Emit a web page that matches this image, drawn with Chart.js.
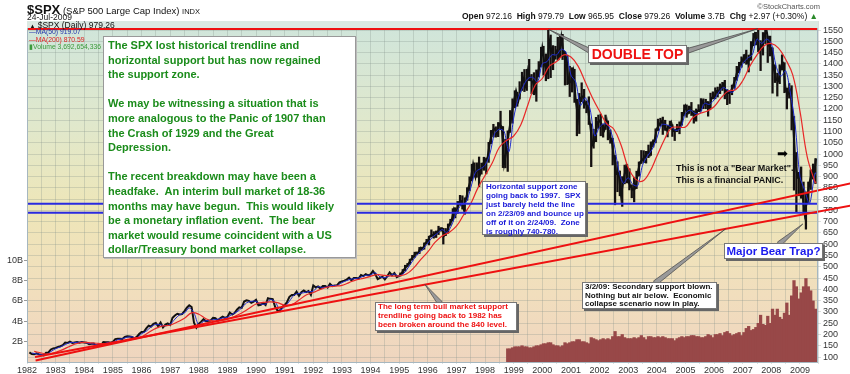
<!DOCTYPE html>
<html>
<head>
<meta charset="utf-8">
<script src="https://cdn.jsdelivr.net/npm/chart.js@4.4.1/dist/chart.umd.min.js"></script>
<style>
  body { margin: 0; background: #fff; }
  #wrap { position: relative; width: 850px; height: 374px; font-family: Arial, "Liberation Sans", sans-serif; }
  .t { position: absolute; white-space: nowrap; }
  .box { position: absolute; white-space: nowrap; background: #fff; border: 1px solid #777; box-shadow: 2px 2px 0 #666; font-weight: bold; box-sizing: border-box; }
</style>
</head>
<body>
<div id="wrap">
  <canvas id="spx-chart" width="850" height="374"></canvas>

  <div class="t" style="left:27px;top:2px;font-size:9.5px;color:#111"><b style="font-size:13px">$SPX</b> (S&amp;P 500 Large Cap Index) <span style="font-size:7.5px">INDX</span></div>
  <div class="t" style="left:27px;top:12px;font-size:8.5px;color:#222">24-Jul-2009</div>
  <div class="t" style="right:30px;top:2px;font-size:7.5px;color:#555">&copy;StockCharts.com</div>
  <div class="t" style="right:32px;top:11px;font-size:8.5px;color:#111"><b>Open</b> 972.16 &nbsp;<b>High</b> 979.79 &nbsp;<b>Low</b> 965.95 &nbsp;<b>Close</b> 979.26 &nbsp;<b>Volume</b> 3.7B &nbsp;<b>Chg</b> +2.97 (+0.30%) <span style="color:#2a8a2a">&#9650;</span></div>

  <div class="t" style="left:27px;top:21px;width:791px;height:7px;background:#dbe9e2;font-size:8.5px;line-height:8px;color:#111">&nbsp;<span style="font-size:6px">&#9650;</span> $SPX (Daily) 979.26</div>
  <div class="t" style="left:29px;top:28px;font-size:6.8px;line-height:7.6px">
    <span style="color:#2233aa">&#8212;MA(50) 919.07</span><br>
    <span style="color:#dd2222">&#8212;MA(200) 870.59</span><br>
    <span style="color:#3a9a3a">&#9646;Volume 3,692,654,336</span>
  </div>

  <div class="box" style="left:103px;top:36px;width:253px;height:222px;padding:1px 4px;font-size:11px;line-height:14.6px;color:#1b8c1b;border-color:#999;box-shadow:1px 1px 0 #bbb">
    The SPX lost historical trendline and<br>
    horizontal support but has now regained<br>
    the support zone.<br>
    <br>
    We may be witnessing a situation that is<br>
    more analogous to the Panic of 1907 than<br>
    the Crash of 1929 and the Great<br>
    Depression.<br>
    <br>
    The recent breakdown may have been a<br>
    headfake.&nbsp; An interim bull market of 18-36<br>
    months may have begun.&nbsp; This would likely<br>
    be a monetary inflation event.&nbsp; The bear<br>
    market would resume coincident with a US<br>
    dollar/Treasury bond market collapse.
  </div>

  <div class="box" style="left:588px;top:45px;width:99px;height:18px;font-size:14px;line-height:16px;color:#ee1111;text-align:center">DOUBLE TOP</div>

  <div class="t" style="left:777px;top:146px;font-size:13px;font-family:'DejaVu Sans'">&#10145;</div>
  <div class="t" style="left:676px;top:162px;font-size:9px;line-height:12px;font-weight:bold;color:#111">This is not a "Bear Market".<br>This is a financial PANIC.</div>

  <div class="box" style="left:482px;top:181px;width:104px;height:54px;padding:0 3px;font-size:8px;line-height:9px;color:#1a1ad8">
    Horizontal support zone<br>
    going back to 1997.&nbsp; SPX<br>
    just barely held the line<br>
    on 2/23/09 and bounce up<br>
    off of it on 2/24/09.&nbsp; Zone<br>
    is roughly 740-780.
  </div>

  <div class="box" style="left:724px;top:243px;width:99px;height:16px;font-size:11.5px;line-height:14px;color:#1a1aee;text-align:center">Major Bear Trap?</div>

  <div class="box" style="left:582px;top:282px;width:135px;height:27px;padding:0 2px;font-size:8px;line-height:8.5px;color:#111">
    3/2/09: Secondary support blown.<br>
    Nothing but air below.&nbsp; Economic<br>
    collapse scenario now in play.
  </div>

  <div class="box" style="left:375px;top:302px;width:142px;height:29px;padding:0 2px;font-size:8px;line-height:8.8px;color:#ee1111">
    The long term bull market support<br>
    trendline going back to 1982 has<br>
    been broken around the 840 level.
  </div>
</div>

<script>
// monthly closes, Jan 1982 .. Jul 2009
const closes = [
  120.4,113.1,112.0,116.4,111.9,109.6,107.1,119.5,120.4,133.7,138.5,140.6,
  145.3,148.1,153.0,164.4,162.4,168.1,162.6,164.4,166.1,163.6,166.4,164.9,
  163.4,157.1,159.2,160.1,150.6,153.2,150.7,166.7,166.1,166.1,163.6,167.2,
  179.6,181.2,180.7,179.8,189.6,191.9,190.9,188.6,182.1,189.8,202.2,211.3,
  211.8,226.9,238.9,235.5,247.4,250.8,236.1,252.9,231.3,244.0,249.2,242.2,
  274.1,284.2,291.7,288.4,290.1,304.0,318.7,329.8,321.8,251.8,230.3,247.1,
  257.1,267.8,258.9,261.3,262.2,273.5,272.0,261.5,271.9,279.0,273.7,277.7,
  297.5,288.9,294.9,309.6,320.5,318.0,346.1,351.5,349.2,340.4,346.0,353.4,
  329.1,331.9,339.9,330.8,361.2,358.0,356.2,322.6,306.1,304.0,322.2,330.2,
  343.9,367.1,375.2,375.3,389.8,371.2,387.8,395.4,387.9,392.5,375.2,417.1,
  408.8,412.7,403.7,415.0,415.4,408.1,424.2,414.0,417.8,418.7,431.4,435.7,
  438.8,443.4,451.7,440.2,450.2,450.5,448.1,463.6,458.9,467.8,461.8,466.5,
  481.6,467.1,445.8,450.9,456.5,444.3,458.3,475.5,462.7,472.4,453.7,459.3,
  470.4,487.4,500.7,514.7,533.4,544.8,562.1,561.9,584.4,581.5,605.4,615.9,
  636.0,640.4,645.5,654.2,669.1,670.6,640.0,652.0,687.3,705.3,757.0,740.7,
  786.2,790.8,757.1,801.3,848.3,885.1,954.3,899.5,947.3,914.6,955.4,970.4,
  980.3,1049.3,1101.8,1111.8,1090.8,1133.8,1120.7,957.3,1017.0,1098.7,1163.6,1229.2,
  1279.6,1238.3,1286.4,1335.2,1301.8,1372.7,1328.7,1320.4,1282.7,1362.9,1388.9,1469.3,
  1394.5,1366.4,1498.6,1452.4,1420.6,1454.6,1430.8,1517.7,1436.5,1429.4,1315.2,1320.3,
  1366.0,1239.9,1160.3,1249.5,1255.8,1224.4,1211.2,1133.6,1040.9,1059.8,1139.5,1148.1,
  1130.2,1106.7,1147.4,1076.9,1067.1,989.8,911.6,916.1,815.3,885.8,936.3,879.8,
  855.7,841.2,848.2,916.9,963.6,974.5,990.3,1008.0,996.0,1050.7,1058.2,1111.9,
  1131.1,1144.9,1126.2,1107.3,1120.7,1140.8,1101.7,1104.2,1114.6,1130.2,1173.8,1211.9,
  1181.3,1203.6,1180.6,1156.9,1191.5,1191.3,1234.2,1220.3,1228.8,1207.0,1249.5,1248.3,
  1280.1,1280.7,1294.9,1310.6,1270.1,1270.2,1276.7,1303.8,1335.9,1377.9,1400.6,1418.3,
  1438.2,1406.8,1420.9,1482.4,1530.6,1503.4,1455.3,1474.0,1526.8,1549.4,1481.1,1468.4,
  1378.6,1330.6,1322.7,1385.6,1400.4,1280.0,1267.4,1282.8,1166.4,968.8,896.2,903.3,
  825.9,735.1,797.9,872.8,919.1,919.3,979.3
];

// monthly highs / lows, Jan 1995 .. Jul 2009
const highs = [
  473,488,507,515,534,551,565,565,586,587,606,622,
  636,664,656,659,680,673,671,670,690,711,758,762,
  790,817,815,806,851,899,955,961,961,987,960,986,
  983,1052,1105,1132,1121,1140,1190,1122,1066,1103,1193,1245,
  1281,1274,1321,1363,1375,1376,1420,1353,1361,1373,1410,1474,
  1478,1444,1553,1528,1481,1478,1518,1525,1531,1455,1438,1389,
  1383,1376,1243,1269,1316,1287,1236,1254,1134,1110,1163,1173,
  1177,1131,1173,1147,1107,1070,994,966,925,900,951,954,
  935,864,896,924,965,1016,1015,1012,1040,1054,1063,1112,
  1155,1159,1164,1150,1128,1146,1130,1111,1132,1143,1185,1218,
  1218,1213,1229,1192,1200,1219,1246,1245,1243,1233,1270,1276,
  1294,1297,1311,1318,1327,1286,1281,1306,1340,1389,1407,1431,
  1441,1461,1439,1499,1535,1540,1556,1503,1539,1576,1523,1523,
  1471,1396,1359,1396,1440,1405,1293,1313,1303,1167,1007,919,
  943,876,832,876,930,956,980
];
const lows = [
  459,469,481,500,511,530,542,555,559,574,578,603,
  597,633,627,630,643,658,601,638,649,684,703,717,
  737,773,756,733,795,837,882,898,897,855,911,928,
  912,963,1046,1076,1075,1077,1108,940,939,923,1096,1137,
  1205,1212,1244,1282,1277,1282,1325,1268,1263,1234,1342,1387,
  1350,1325,1334,1339,1374,1421,1417,1430,1419,1306,1308,1255,
  1275,1229,1081,1091,1232,1203,1183,1131,944,1026,1055,1114,
  1081,1075,1109,1063,1048,952,775,833,815,768,868,872,
  841,806,788,847,902,958,962,960,984,994,1031,1050,
  1104,1124,1087,1105,1076,1113,1078,1060,1099,1090,1128,1171,
  1163,1180,1171,1137,1146,1188,1191,1201,1201,1168,1202,1245,
  1245,1253,1268,1282,1245,1219,1224,1263,1291,1327,1360,1385,
  1404,1398,1364,1416,1480,1484,1454,1370,1439,1490,1406,1435,
  1270,1317,1257,1312,1373,1272,1200,1248,1107,840,741,815,
  804,736,667,783,843,889,869
];

// monthly average volume in billions, Oct 1998 .. Jul 2009
const volumes = [
  1.3,1.3,1.4,
  1.5,1.5,1.5,1.6,1.5,1.5,1.4,1.4,1.5,1.6,1.6,1.7,
  1.8,1.8,1.9,1.9,1.7,1.6,1.6,1.5,1.6,1.9,1.8,1.9,
  2.0,2.0,2.2,2.2,2.0,2.0,1.9,1.8,2.4,2.3,2.2,2.1,
  2.2,2.3,2.2,2.3,2.2,2.5,3.0,2.5,2.5,2.7,2.4,2.3,
  2.3,2.3,2.4,2.3,2.4,2.6,2.4,2.2,2.5,2.5,2.4,2.4,
  2.5,2.4,2.5,2.4,2.3,2.3,2.3,2.1,2.3,2.4,2.5,2.4,
  2.5,2.5,2.6,2.6,2.5,2.5,2.4,2.4,2.5,2.7,2.6,2.4,
  2.7,2.7,2.8,2.6,2.9,3.0,2.8,2.6,2.7,2.8,2.9,2.6,
  2.9,3.3,3.5,3.1,3.2,3.4,3.8,4.6,3.7,3.6,4.5,3.8,
  5.2,4.6,5.2,4.4,4.2,4.8,5.8,4.6,6.5,8.0,7.4,6.2,
  6.8,7.4,8.2,7.4,7.0,6.0,5.2
];

// 200-day MA, quarter ends Mar 1982 .. Jun 2009
const ma200 = [
  125,118,113,121, 133,148,160,165, 163,161,158,161, 167,176,184,190,
  209,227,238,241, 255,272,296,290, 270,260,262,268, 280,295,315,335,
  342,345,341,330, 333,353,375,386, 400,410,414,418, 430,442,449,458,
  465,462,459,460, 468,494,532,566, 608,637,653,680, 730,780,850,905,
  960,1030,1060,1080, 1130,1220,1305,1335, 1390,1410,1440,1430, 1390,1320,1250,1190,
  1135,1110,1040,940, 890,880,920,990, 1060,1115,1120,1120, 1160,1180,1190,1210,
  1250,1280,1285,1325, 1390,1440,1480,1490, 1470,1420,1350,1190, 990,885
];
// 50-day MA, every second month end Feb 1982 .. Jun 2009
const ma50 = [
  118,114,112,110,124,137, 145,155,164,164,166,165, 160,158,153,157,165,165,
  177,181,188,190,185,203, 215,234,245,243,238,245, 268,288,295,318,295,242,
  258,262,265,268,273,276, 290,300,318,340,347,347, 335,335,355,345,310,322,
  348,375,382,385,390,392, 412,408,412,418,417,430, 439,446,448,454,462,464,
  474,455,452,460,468,459, 472,500,532,558,578,605, 632,648,665,652,685,740,
  775,785,850,920,935,950, 1000,1090,1110,1100,1010,1160, 1250,1300,1335,1340,1320,1400,
  1410,1440,1440,1465,1450,1350, 1320,1215,1250,1200,1080,1120, 1135,1120,1050,930,870,895,
  865,860,950,990,1020,1070, 1130,1130,1120,1105,1115,1180, 1195,1180,1180,1225,1220,1240,
  1275,1295,1280,1275,1340,1400, 1425,1440,1510,1490,1510,1490, 1390,1345,1370,1270,1130,900,
  840,780,900
];
const lastDate = 2009.56;
const lastMa200 = 870.6;
const lastMa50 = 919.1;

const supportZone = [740, 780];
const doubleTopLine = 1555;
const trendUpper = [[1982.3, 85], [2010.78, 870]];
const trendLower = [[1982.28, 100], [2010.78, 772]];

const priceTicks = [];
for (let v = 100; v <= 1550; v += 50) priceTicks.push(v);
const volumeTicks = [2, 4, 6, 8, 10];

// callout wedges: box anchor (page px) -> point on the chart (year, price)
const callouts = [
  { from: [592, 52], to: [2000.22, 1553] },
  { from: [684, 52], to: [2007.53, 1556] },
  { from: [779, 244], to: [2009.1, 690] },
  { from: [440, 303], to: [1995.9, 422] },
  { from: [655, 283], to: [2006.4, 668] }
];

const closePts = closes.map((v, i) => ({ x: i === closes.length - 1 ? lastDate : 1982 + (i + 1) / 12, y: v }));
const rangePts = highs.map((h, i) => ({ x: 1995 + (i + 0.5) / 12, y: [lows[i], h] }));
const volPts = volumes.map((v, i) => ({ x: 1998 + (9 + i + 0.5) / 12, y: v }));
const ma200Pts = ma200.map((v, i) => ({ x: 1982 + 3 * (i + 1) / 12, y: v })).concat([{ x: lastDate, y: lastMa200 }]);
const ma50Pts = ma50.map((v, i) => ({ x: 1982 + 2 * (i + 1) / 12, y: v })).concat([{ x: lastDate, y: lastMa50 }]);

const flat = (v) => [{ x: 1982, y: v }, { x: 2009.63, y: v }];
const seg = (p) => p.map(q => ({ x: q[0], y: q[1] }));

const bgPlugin = {
  id: 'bg',
  beforeDraw(chart) {
    const { ctx, chartArea: a } = chart;
    const g = ctx.createLinearGradient(0, a.top, 0, a.bottom);
    g.addColorStop(0, '#cfe5db');
    g.addColorStop(0.3, '#e0e8cc');
    g.addColorStop(0.55, '#eee6b8');
    g.addColorStop(0.8, '#f1debd');
    g.addColorStop(1, '#efd5bf');
    ctx.save();
    ctx.fillStyle = g;
    ctx.fillRect(a.left, a.top, a.right - a.left, a.bottom - a.top);
    ctx.restore();
  },
  afterDatasetsDraw(chart) {
    const { ctx, chartArea: a, scales } = chart;
    ctx.save();
    ctx.strokeStyle = '#a6b7c0';
    ctx.lineWidth = 1;
    ctx.strokeRect(a.left + 0.5, a.top + 0.5, a.right - a.left - 1, a.bottom - a.top);
    callouts.forEach(c => {
      const tx = scales.x.getPixelForValue(c.to[0]);
      const ty = scales.y.getPixelForValue(c.to[1]);
      const [fx, fy] = c.from;
      const dx = tx - fx, dy = ty - fy;
      const len = Math.hypot(dx, dy);
      const nx = -dy / len * 2.5, ny = dx / len * 2.5;
      ctx.beginPath();
      ctx.moveTo(tx, ty);
      ctx.lineTo(fx + nx, fy + ny);
      ctx.lineTo(fx - nx, fy - ny);
      ctx.closePath();
      ctx.fillStyle = '#9a9a9a';
      ctx.fill();
      ctx.strokeStyle = '#444';
      ctx.lineWidth = 0.7;
      ctx.stroke();
    });
    ctx.restore();
  }
};

const axisFont = { family: 'Arial, "Liberation Sans", sans-serif', size: 9 };
const gridColor = 'rgba(130,145,135,0.28)';

new Chart(document.getElementById('spx-chart').getContext('2d'), {
  type: 'line',
  data: {
    datasets: [
      { data: seg(trendUpper), borderColor: '#ee1111', borderWidth: 2, pointRadius: 0, clip: false, order: 0 },
      { data: seg(trendLower), borderColor: '#ee1111', borderWidth: 2, pointRadius: 0, clip: false, order: 0 },
      { data: flat(supportZone[0]), borderColor: '#2a2ae0', borderWidth: 2, pointRadius: 0, order: 1 },
      { data: flat(supportZone[1]), borderColor: '#2a2ae0', borderWidth: 2, pointRadius: 0, order: 1 },
      { data: flat(doubleTopLine), borderColor: '#ee1111', borderWidth: 2, pointRadius: 0, order: 1 },
      { data: ma200Pts, borderColor: '#e82828', borderWidth: 1.2, pointRadius: 0, tension: 0.4, order: 2 },
      { data: ma50Pts, borderColor: '#1f2bd0', borderWidth: 1, pointRadius: 0, tension: 0.3, order: 3 },
      { data: closePts, borderColor: '#111', borderWidth: 2, pointRadius: 0, tension: 0, order: 4 },
      { type: 'bar', data: rangePts, backgroundColor: '#151010', barThickness: 1.6, grouped: false, order: 5 },
      { type: 'bar', data: volPts, yAxisID: 'yv', backgroundColor: '#984848', barThickness: 2.6, grouped: false, order: 6 }
    ]
  },
  options: {
    responsive: false,
    animation: false,
    devicePixelRatio: 1,
    layout: { padding: { top: 21, left: 0, right: 0, bottom: 0 } },
    plugins: { legend: { display: false }, tooltip: { enabled: false }, title: { display: false } },
    scales: {
      x: {
        type: 'linear', min: 1982, max: 2009.63, offset: false,
        grid: { color: gridColor, offset: false, tickLength: 2 },
        border: { display: false },
        ticks: {
          stepSize: 0.5, autoSkip: false, maxRotation: 0, padding: 1, font: axisFont, color: '#333',
          callback: v => Number.isInteger(v) ? String(v) : ''
        },
        afterFit: s => { s.height = 12; }
      },
      y: {
        position: 'right', min: 78, max: 1590,
        afterBuildTicks: s => { s.ticks = priceTicks.map(v => ({ value: v })); },
        afterFit: s => { s.width = 32; },
        grid: { color: gridColor, tickLength: 3 },
        border: { display: false },
        ticks: { font: axisFont, color: '#333', padding: 2, autoSkip: false, callback: v => String(v) }
      },
      yv: {
        position: 'left', min: 0, max: 33.5,
        afterBuildTicks: s => { s.ticks = volumeTicks.map(v => ({ value: v })); },
        afterFit: s => { s.width = 27; },
        grid: { drawOnChartArea: false, tickLength: 3, color: '#999' },
        border: { display: false },
        ticks: { font: axisFont, color: '#333', padding: 1, autoSkip: false, callback: v => v + 'B' }
      }
    }
  },
  plugins: [bgPlugin]
});
</script>
</body>
</html>
